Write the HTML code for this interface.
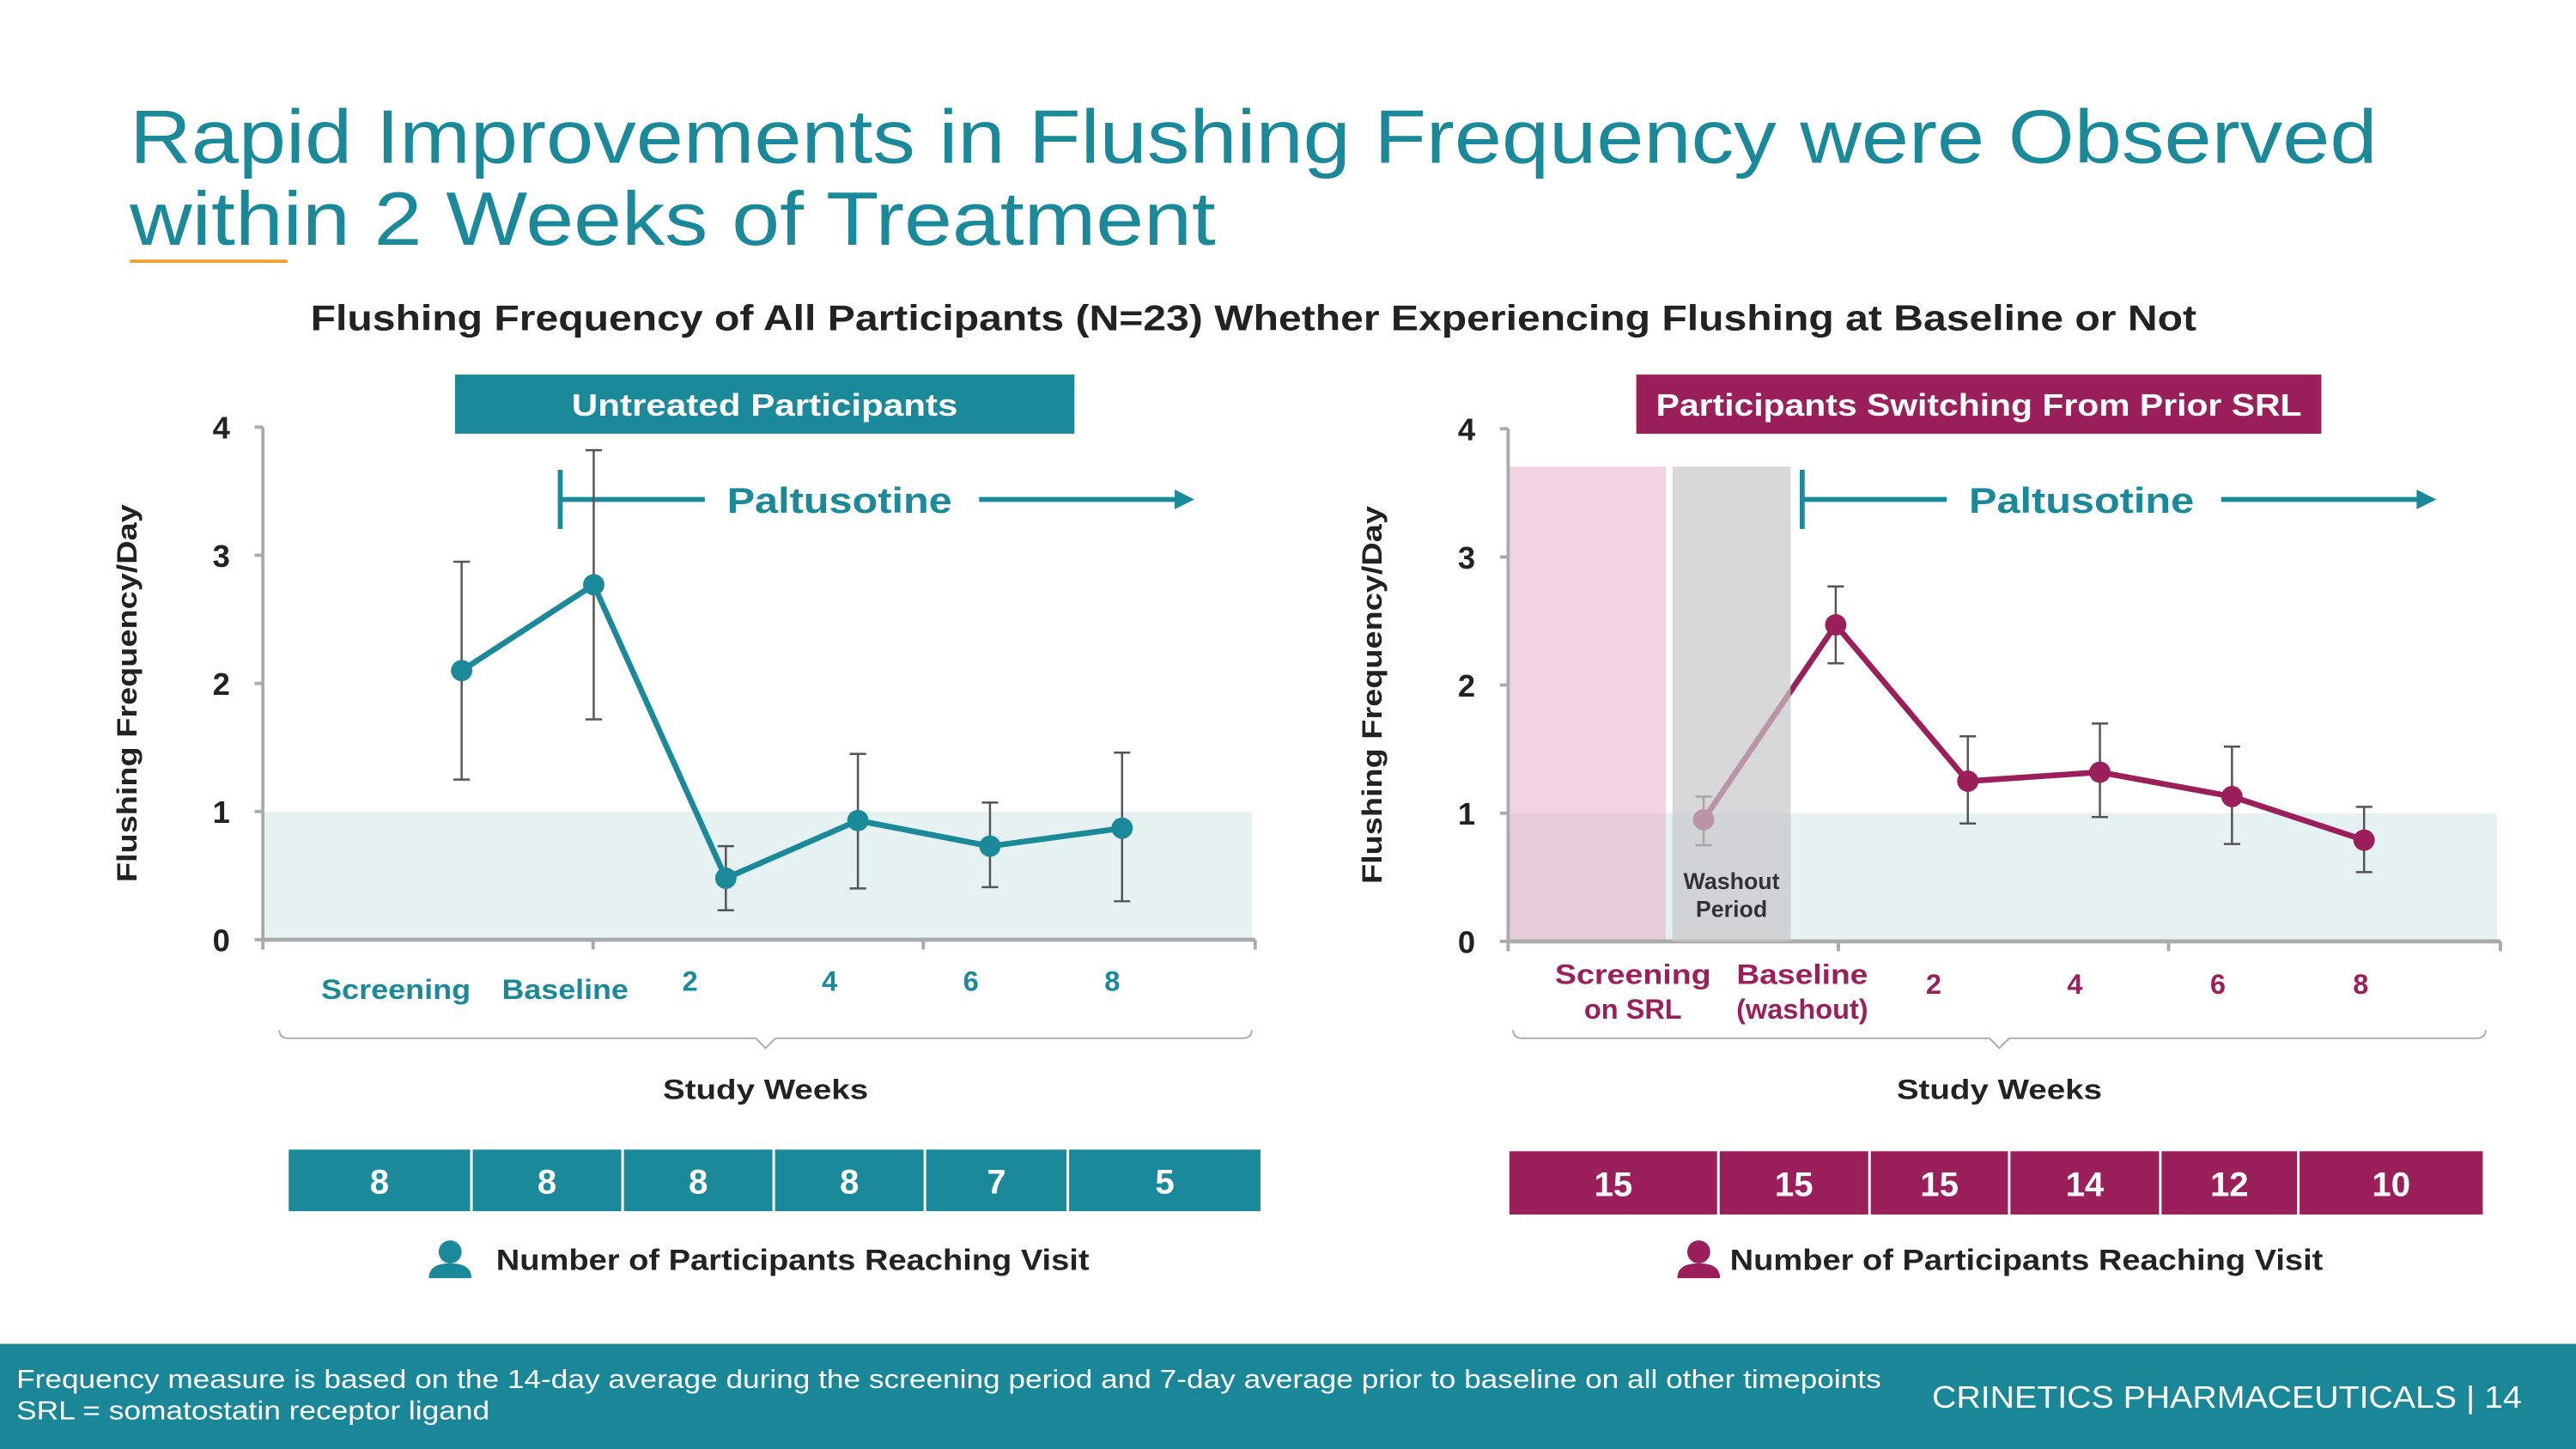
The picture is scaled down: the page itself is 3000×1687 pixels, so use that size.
<!DOCTYPE html>
<html><head><meta charset="utf-8"><style>
html,body{margin:0;padding:0;background:#fff;}
svg{display:block;font-family:"Liberation Sans",sans-serif;}
</style></head><body>
<svg width="3000" height="1687" viewBox="0 0 1568 882" preserveAspectRatio="none" xmlns="http://www.w3.org/2000/svg">
<g id="static">
<text x="79" y="99" font-size="46" fill="#1a8a9a" textLength="1368" lengthAdjust="spacingAndGlyphs">Rapid Improvements in Flushing Frequency were Observed</text>
<text x="79" y="149" font-size="46" fill="#1a8a9a" textLength="661" lengthAdjust="spacingAndGlyphs">within 2 Weeks of Treatment</text>
<rect x="79" y="158" width="96" height="2" fill="#f0a030"/>
<text x="189" y="201" font-size="22" font-weight="bold" fill="#222" textLength="1148" lengthAdjust="spacingAndGlyphs">Flushing Frequency of All Participants (N=23) Whether Experiencing Flushing at Baseline or Not</text>
<rect x="0" y="818" width="1568" height="64" fill="#1a8799"/>
<text x="10" y="845" font-size="16" fill="#fff" textLength="1135" lengthAdjust="spacingAndGlyphs">Frequency measure is based on the 14-day average during the screening period and 7-day average prior to baseline on all other timepoints</text>
<text x="10" y="864" font-size="16" fill="#fff" textLength="288" lengthAdjust="spacingAndGlyphs">SRL = somatostatin receptor ligand</text>
<text x="1176" y="857" font-size="19" fill="#fff" textLength="359" lengthAdjust="spacingAndGlyphs">CRINETICS PHARMACEUTICALS  |  14</text>
</g>
<g id="charts"></g>
</svg>
<script>
const catsLeft=["Screening","Baseline","2","4","6","8"];
const meanLeft=[2.1,2.77,0.48,0.93,0.73,0.87];
const lowLeft=[1.25,1.72,0.23,0.4,0.41,0.3];
const highLeft=[2.95,3.82,0.73,1.45,1.07,1.46];
const nLeft=[8,8,8,8,7,5];
const meanRight=[0.95,2.47,1.25,1.32,1.13,0.79];
const lowRight=[0.75,2.17,0.92,0.97,0.76,0.54];
const highRight=[1.13,2.77,1.6,1.7,1.52,1.05];
const nRight=[15,15,15,14,12,10];
const yTicks=[0,1,2,3,4];
const NS="http://www.w3.org/2000/svg";
const root=document.getElementById('charts');
function mk(tag,attrs,parent,text){const e=document.createElementNS(NS,tag);for(const k in attrs)e.setAttribute(k,attrs[k]);if(text!==undefined)e.textContent=text;(parent||root).appendChild(e);return e;}
function chart(o){
  const g=mk('g',{});
  
  
  const y=v=>o.y0-v*78;
  const x=i=>o.xs+i*80.4;
  const band=mk('rect',{x:o.ax,y:y(1),width:602,height:y(0)-y(1),fill:'#e6f2f1'},g);
  
  
  if(o.right){
    const p=mk('rect',{x:o.ax,y:284,width:96,height:o.y0-284,fill:'#e8a8c8','fill-opacity':0.5},g);
    
    
  }
  const ya=mk('line',{x1:o.ax,y1:y(4),x2:o.ax,y2:o.y0,stroke:'#aaa','stroke-width':2},g);
  
  
  const xa=mk('line',{x1:o.ax,y1:o.y0,x2:o.ax+604,y2:o.y0,stroke:'#aaa','stroke-width':2.5},g);
  
  
  [0,1,2,3].forEach(k=>{const t=mk('line',{x1:o.ax+[0,201,402,604][k],y1:o.y0,x2:o.ax+[0,201,402,604][k],y2:o.y0+6,stroke:'#aaa','stroke-width':2},g);
    
    });
  yTicks.forEach(v=>{
    const t=mk('text',{x:o.ax-20,y:y(v)+7,'font-size':19,'font-weight':'bold',fill:'#222','text-anchor':'end'},g,String(v));
    
    
    const tk=mk('line',{x1:o.ax-5,y1:y(v),x2:o.ax,y2:y(v),stroke:'#aaa','stroke-width':2},g);
    
    
  });
  const yt=mk('text',{x:0,y:0,'font-size':17,'font-weight':'bold',fill:'#222','text-anchor':'middle',textLength:230,lengthAdjust:'spacingAndGlyphs',transform:`translate(${o.ax-77},${(y(4)+o.y0)/2+6}) rotate(-90)`},g,'Flushing Frequency/Day');
  
  
  const hb=mk('rect',{x:o.hx,y:228,width:o.hw,height:36,fill:o.col},g);
  
  
  const ht=mk('text',{x:o.hx+o.hw/2,y:253,'font-size':19,'font-weight':'bold',fill:'#fff','text-anchor':'middle',textLength:o.htl,lengthAdjust:'spacingAndGlyphs'},g,o.header);
  
  
  const pa=mk('path',{d:`M${o.px} 286 V322 M${o.px} 304 H${o.px+88} M${o.px+255} 304 H${o.px+376}`,stroke:'#1a8a9a','stroke-width':3,fill:'none'},g);
  
  
  mk('path',{d:`M${o.px+374} 298 L${o.px+386} 304 L${o.px+374} 310Z`,fill:'#1a8a9a'},g);
  const pt=mk('text',{x:o.px+170,y:312,'font-size':22,'font-weight':'bold',fill:'#1a8a9a','text-anchor':'middle',textLength:137,lengthAdjust:'spacingAndGlyphs'},g,'Paltusotine');
  
  
  const pts=o.mean.map((v,i)=>`${x(i)},${y(v)}`).join(' ');
  const ln=mk('polyline',{points:pts,fill:'none',stroke:o.col,'stroke-width':3.5},g);
  
  
  o.mean.forEach((v,i)=>{
    const eb=mk('path',{d:`M${x(i)} ${y(o.low[i])} V${y(o.high[i])} M${x(i)-5} ${y(o.low[i])} h10 M${x(i)-5} ${y(o.high[i])} h10`,stroke:'#555','stroke-width':1.3,fill:'none'},g);
    
    
    const c=mk('circle',{cx:x(i),cy:y(v),r:6.5,fill:o.col},g);
    
    
  });
  if(o.right){
    const w=mk('rect',{x:o.ax+100,y:284,width:72,height:o.y0-284,fill:'#c8c8c8','fill-opacity':0.7},g);
    
    
    const w1=mk('text',{x:o.ax+136,y:541,'font-size':14,'font-weight':'bold',fill:'#333','text-anchor':'middle'},g,'Washout');
    
    
    mk('text',{x:o.ax+136,y:558,'font-size':14,'font-weight':'bold',fill:'#333','text-anchor':'middle'},g,'Period');
  }
  o.xlabels.forEach((l,i)=>{
    const a={x:l[1],y:o.xly[i]||605,'font-size':17,'font-weight':'bold',fill:o.col,'text-anchor':'middle'};
    if(l[3]){a.textLength=l[3];a.lengthAdjust='spacingAndGlyphs';}
    const t=mk('text',a,g,l[0]);
    
    
    if(l[2]) mk('text',{x:l[1],y:620,'font-size':17,'font-weight':'bold',fill:o.col,'text-anchor':'middle'},g,l[2]);
  });
  const bx=o.bx, bw=o.bw;
  const br=mk('path',{d:`M${bx} 627 q0 5 6 5 H${bx+bw/2-6} l6 6 l6 -6 H${bx+bw-6} q6 0 6 -5`,stroke:'#aaa','stroke-width':1,fill:'none'},g);
  
  
  const xt=mk('text',{x:bx+bw/2,y:669,'font-size':17,'font-weight':'bold',fill:'#222','text-anchor':'middle',textLength:125,lengthAdjust:'spacingAndGlyphs'},g,'Study Weeks');
  
  
  o.cells.forEach((c,i)=>{
    const r=mk('rect',{x:c[0],y:o.cy,width:c[1],height:o.ch,fill:o.col,stroke:'#fff','stroke-width':1.5},g);
    
    
    const t=mk('text',{x:c[0]+c[1]/2,y:o.cy+o.ch/2+8,'font-size':21,'font-weight':'bold',fill:'#fff','text-anchor':'middle'},g,String(o.n[i]));
    
    
  });
  const ic=mk('path',{d:`M${o.ix} 762 m-7 0 a7 7 0 1 0 14 0 a7 7 0 1 0 -14 0 M${o.ix-13} 778 q0 -9 13 -9 q13 0 13 9 z`,fill:o.col},g);
  
  
  const lt=mk('text',{x:o.lx,y:773,'font-size':18,'font-weight':'bold',fill:'#222',textLength:361,lengthAdjust:'spacingAndGlyphs'},g,'Number of Participants Reaching Visit');
  
  
}
chart({name:'untreated-chart',ax:160,y0:572,xs:281,col:'#1a8a9a',mean:meanLeft,low:lowLeft,high:highLeft,n:nLeft,
  header:'Untreated Participants',hx:277,hw:377,htl:235,px:341,bx:170,bw:592,
  xlabels:[["Screening",241,null,91],["Baseline",344,null,77],["2",420],["4",505],["6",591],["8",677]],xly:[608,608,603,603,603,603],
  cells:[[175,112],[287,92],[379,92],[471,92],[563,87],[650,118]],cy:699,ch:39,ix:274,lx:302});
chart({name:'switching-chart',ax:918,y0:573,xs:1037,col:'#9b1f5a',mean:meanRight,low:lowRight,high:highRight,n:nRight,right:true,
  header:'Participants Switching From Prior SRL',hx:996,hw:417,htl:393,px:1097,bx:921,bw:592,
  xlabels:[["Screening",994,"on SRL",95],["Baseline",1097,"(washout)",80],["2",1177],["4",1263],["6",1350],["8",1437]],xly:[599,599,605,605,605,605],
  cells:[[918,128],[1046,92],[1138,85],[1223,92],[1315,84],[1399,113]],cy:700,ch:40,ix:1034,lx:1053});
</script>
</body></html>
